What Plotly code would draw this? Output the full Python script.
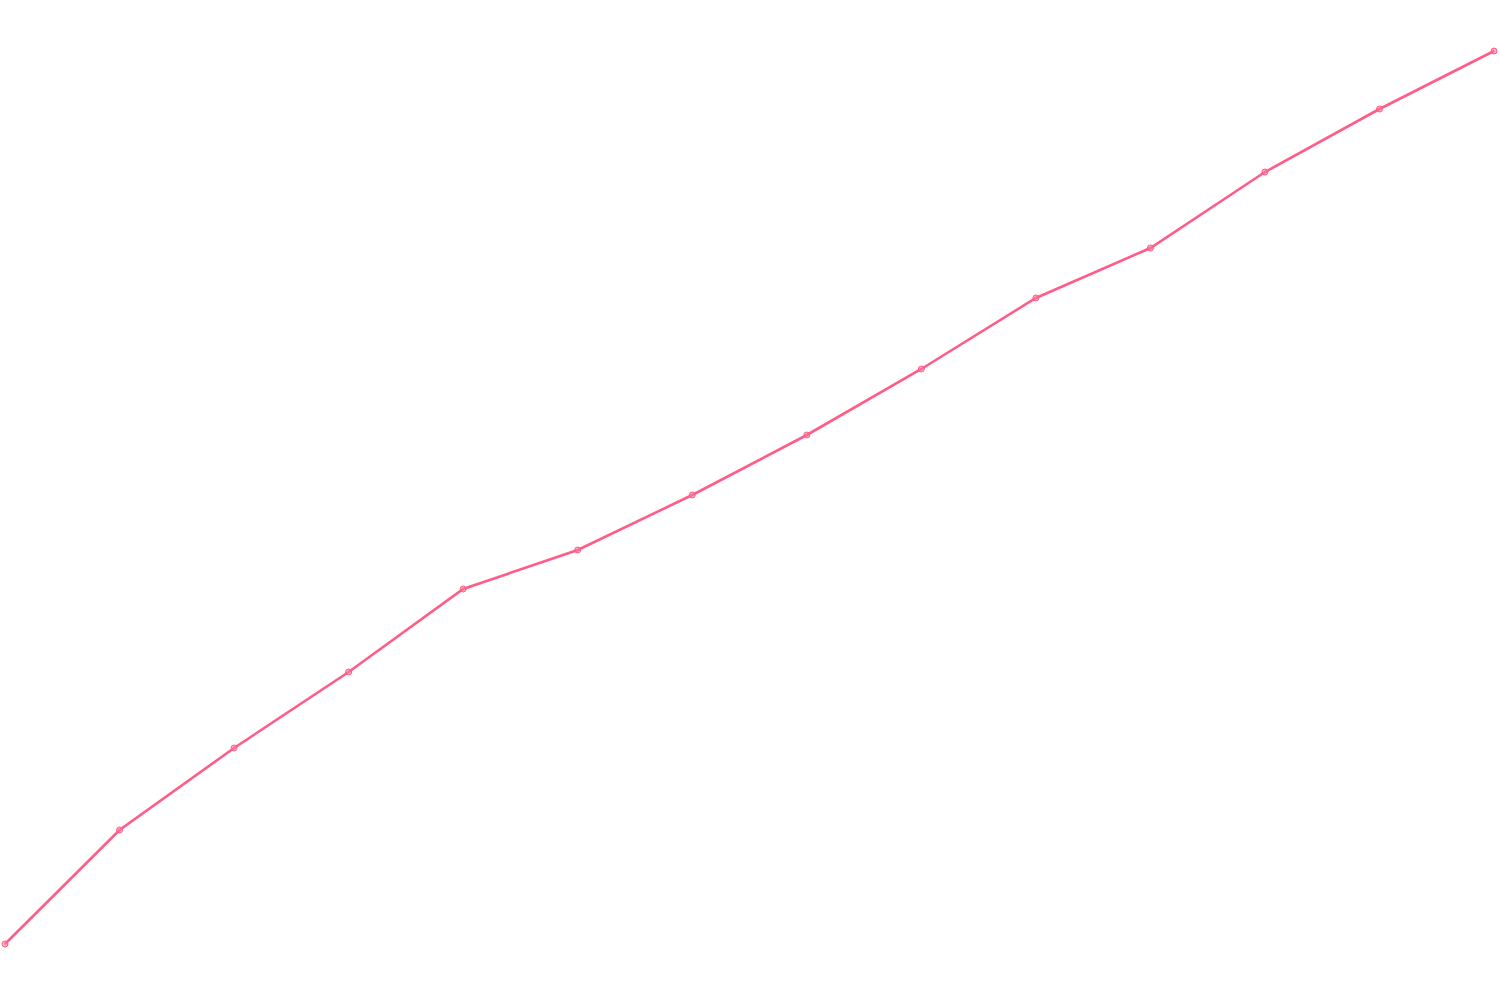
import plotly.graph_objects as go

# point index along the x axis, and the value at each point
steps = list(range(14))
values = [56, 170, 252, 328, 411, 450, 505, 565, 631, 702, 752, 828, 891, 949]

line_color = "rgb(255,92,135)"

fig = go.Figure()
fig.add_trace(go.Scatter(
    x=steps,
    y=values,
    mode="lines+markers",
    line=dict(color=line_color, width=2.6),
    marker=dict(size=6, color="rgba(255,120,150,0.6)",
                line=dict(color=line_color, width=1)),
    cliponaxis=False,
    showlegend=False,
))

fig.update_layout(
    width=1500,
    height=1000,
    margin=dict(l=0, r=0, t=0, b=0),
    paper_bgcolor="white",
    plot_bgcolor="white",
    xaxis=dict(range=[-0.0437, 13.052], visible=False),
    yaxis=dict(range=[0, 1000], visible=False),
)

# page body has a default 8px margin; drop it so the chart fills the window
fig.write_html("out.html", config={"displayModeBar": False},
               post_script="document.body.style.margin='0';")
